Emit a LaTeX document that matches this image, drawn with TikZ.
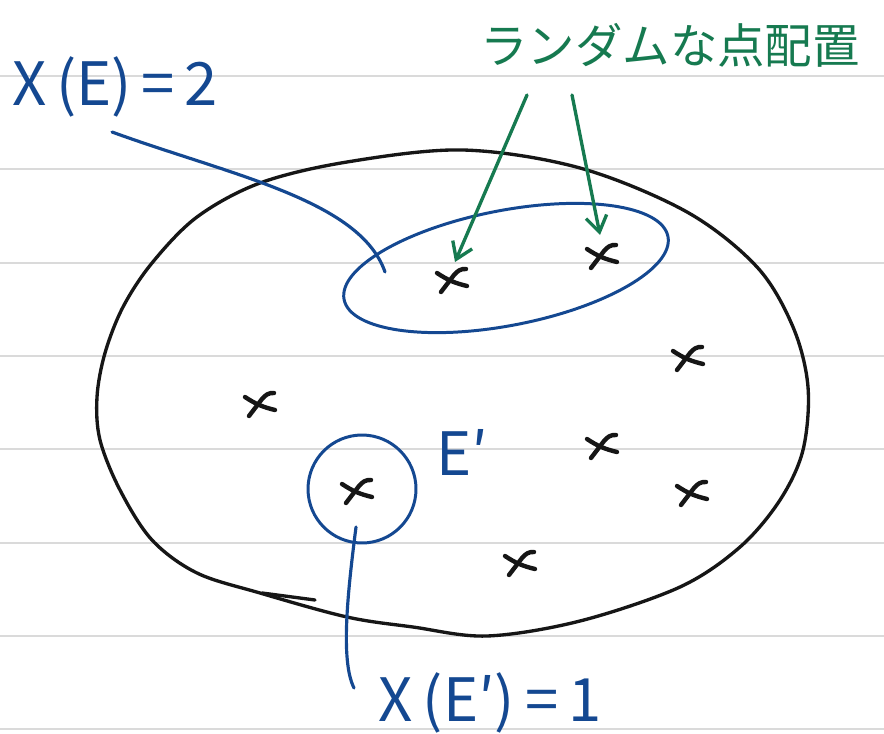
\documentclass[tikz,border=0pt]{standalone}
\usepackage{fontspec}
\setmainfont{Noto Sans CJK JP}
\usetikzlibrary{arrows.meta,positioning,shapes.geometric}
\definecolor{ink1}{RGB}{22,22,22}
\definecolor{blue1}{RGB}{20,72,145}
\definecolor{green1}{RGB}{22,122,80}
\definecolor{rule1}{RGB}{218,218,218}
\tikzset{
  pen/.style={line width=1.9pt, line cap=round, line join=round},
  lead/.style={pen, blue1, line width=1.8pt},
  garrow/.style={pen, green1, -{Straight Barb[length=9pt,width=12pt]}},
  biglabel/.style={blue1, font=\fontsize{34}{36}\selectfont, inner sep=0pt},
  xmark/.pic={
    \draw[pen, ink1, line width=2.5pt] (-11,13) -- (2,-4) to[out=50,in=175] (14,-10);
    \draw[pen, ink1, line width=2.5pt] (-15,-6) to[bend right=10] (15,7);
  }
}
\begin{document}
\begin{tikzpicture}[x=0.02cm, y=-0.02cm]
    \useasboundingbox (0,0) rectangle (884,733);
    \fill[white] (0,0) rectangle (884,733);
    % ruled paper
    \foreach \y in {76,169.3,262.6,356,449.3,542.6,636,729.3}
        \draw[rule1, line width=1.1pt] (0,\y) -- (884,\y);
    % outer region
    \draw[pen, ink1] plot[smooth cycle, tension=0.55] coordinates {
        (97,397) (100,440) (120,490) (152,540) (197,573) (260,593)
        (347,617) (413,627) (487,636) (580,621) (680,587) (740,547)
        (780,500) (803,450) (808,387) (793,327) (757,267) (687,212)
        (580,168) (463,150) (347,162) (260,183) (197,217) (152,263)
        (123,307) (105,353)};
    \draw[pen, ink1] (262,593) -- (315,600);
    % point marks
    \foreach \px/\py [count=\i] in {452/279, 602/255, 688/357, 260/403,
                                    602/445, 357/490, 692/492, 520/562}{
        \coordinate (m\i) at (\px,\py);
        \pic at (m\i) {xmark};
    }
    % subsets E and E'
    \node[draw=blue1, line width=1.7pt, ellipse, rotate=11,
          minimum width=6.6cm, minimum height=2.3cm] (E) at (506,268) {};
    \node[draw=blue1, line width=1.7pt, circle,
          minimum size=2.16cm] (Ep) at (362,489) {};
    % labels
    \node[biglabel] (lblE) at (115,87) {X\,(E)\,=\,2};
    \node[biglabel] (lblEp) at (490,703) {X\,(E′)\,=\,1};
    \node[biglabel] (lblEprime) at (462,452) {E′};
    \node[green1, font=\fontsize{27}{30}\selectfont, inner sep=0pt]
        (lblRand) at (670,45) {ランダムな点配置};
    % leaders
    \coordinate (tailE) at (385,272);
    \coordinate (tailEp) at (356,527);
    \draw[lead] ([shift={(-3,45)}]lblE.center)
        .. controls (230,175) and (360,200) .. (tailE);
    \draw[lead] (tailEp) .. controls (348,590) and (340,660)
        .. ([shift={(-136,-15)}]lblEp.center);
    % arrows to the points
    \coordinate (a1) at (527,95);
    \coordinate (a2) at (572,95);
    \draw[garrow] (a1) -- ([shift={(3,-17)}]m1);
    \draw[garrow] (a2) -- ([shift={(-2,-20)}]m2);
\end{tikzpicture}
\end{document}
